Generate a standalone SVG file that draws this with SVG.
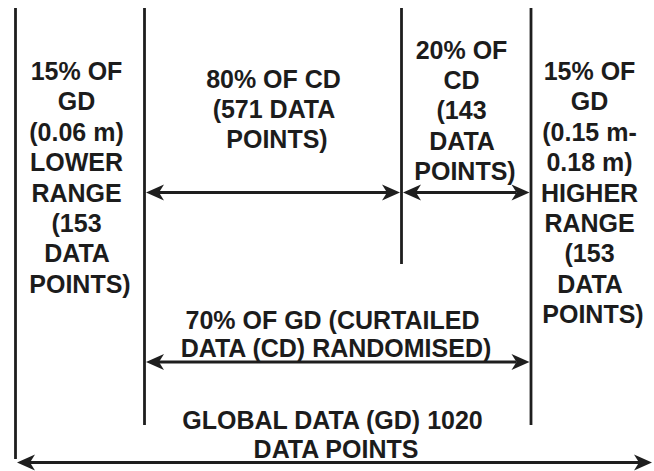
<svg xmlns="http://www.w3.org/2000/svg" width="654" height="471" viewBox="0 0 654 471">
  <style>
    .divider { stroke: #1e1e1e; stroke-width: 2.8; fill: none; }
    .dim { stroke: #1e1e1e; stroke-width: 2.8; fill: none; marker-start: url(#head); marker-end: url(#head); }
    .label { font-family: "Liberation Sans", Arial, sans-serif; font-size: 25px; font-weight: bold; fill: #1c1c1c; text-anchor: middle; }
  </style>
  <defs>
    <!-- classic notched arrowhead; path end sits on the notch, tip 13px further on -->
    <marker id="head" markerUnits="userSpaceOnUse" orient="auto-start-reverse" refX="0" refY="0" markerWidth="30" markerHeight="20" overflow="visible">
      <path d="M13,0 L-5,-8 L0,0 L-5,8 Z" fill="#1e1e1e"/>
    </marker>
  </defs>
  <rect width="654" height="471" fill="#ffffff"/>

  <!-- vertical boundary lines -->
  <g id="dividers">
    <line class="divider" x1="15.5" y1="8" x2="15.5" y2="459"/>
    <line class="divider" x1="144.5" y1="8" x2="144.5" y2="425"/>
    <line class="divider" x1="401.5" y1="8" x2="401.5" y2="264"/>
    <line class="divider" x1="531" y1="8" x2="531" y2="425"/>
  </g>

  <!-- dimension arrows -->
  <g id="connectors">
    <line class="dim" x1="159" y1="192.5" x2="387" y2="192.5"/>
    <line class="dim" x1="416" y1="192.5" x2="516.5" y2="192.5"/>
    <line class="dim" x1="159" y1="362" x2="516.5" y2="362"/>
    <line class="dim" x1="30" y1="462.5" x2="639" y2="462.5"/>
  </g>

  <g id="lower-range">
    <text class="label">
      <tspan x="80" y="80">15% OF</tspan>
      <tspan x="80" y="110.4">GD</tspan>
      <tspan x="80" y="140.8">(0.06 m)</tspan>
      <tspan x="80" y="171.2">LOWER</tspan>
      <tspan x="80" y="201.6">RANGE</tspan>
      <tspan x="80" y="232">(153</tspan>
      <tspan x="80" y="262.4">DATA</tspan>
      <tspan x="80" y="292.8">POINTS)</tspan>
    </text>
  </g>

  <g id="training-set">
    <text class="label">
      <tspan x="277" y="88">80% OF CD</tspan>
      <tspan x="277" y="118">(571 DATA</tspan>
      <tspan x="277" y="148">POINTS)</tspan>
    </text>
  </g>

  <g id="test-set">
    <text class="label">
      <tspan x="465" y="58.5">20% OF</tspan>
      <tspan x="465" y="88.9">CD</tspan>
      <tspan x="465" y="119.3">(143</tspan>
      <tspan x="465" y="149.7">DATA</tspan>
      <tspan x="465" y="180.1">POINTS)</tspan>
    </text>
  </g>

  <g id="higher-range">
    <text class="label">
      <tspan x="593" y="80">15% OF</tspan>
      <tspan x="593" y="110.4">GD</tspan>
      <tspan x="593" y="140.8">(0.15 m-</tspan>
      <tspan x="593" y="171.2">0.18 m)</tspan>
      <tspan x="593" y="201.6">HIGHER</tspan>
      <tspan x="593" y="232">RANGE</tspan>
      <tspan x="593" y="262.4">(153</tspan>
      <tspan x="593" y="292.8">DATA</tspan>
      <tspan x="593" y="323.2">POINTS)</tspan>
    </text>
  </g>

  <g id="curtailed-data">
    <text class="label">
      <tspan x="336" y="328.5">70% OF GD (CURTAILED</tspan>
      <tspan x="336" y="357">DATA (CD) RANDOMISED)</tspan>
    </text>
  </g>

  <g id="global-data">
    <text class="label">
      <tspan x="336" y="428.5">GLOBAL DATA (GD) 1020</tspan>
      <tspan x="336" y="457.5">DATA POINTS</tspan>
    </text>
  </g>
</svg>
